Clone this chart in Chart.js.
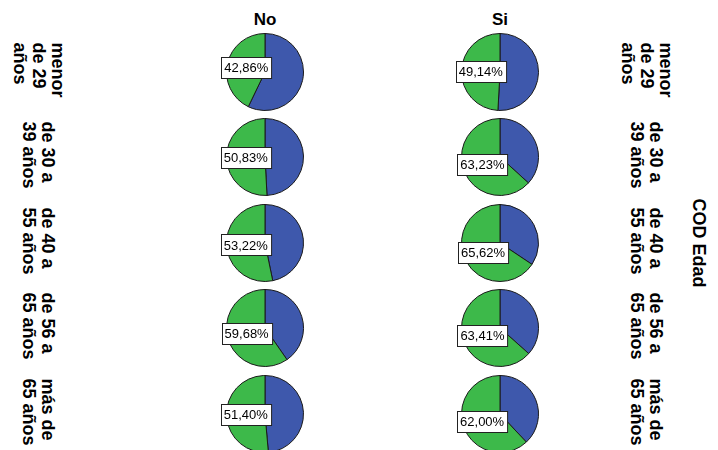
<!DOCTYPE html>
<html>
<head>
<meta charset="utf-8">
<script src="https://cdn.jsdelivr.net/npm/chart.js@4/dist/chart.umd.min.js"></script>
<style>
  html, body { margin: 0; padding: 0; background: #fff; overflow: hidden; }
  #wrap { position: relative; width: 718px; height: 450px; overflow: hidden; font-family: 'Liberation Sans', Arial, sans-serif; }
  .pie { position: absolute; }
  .colHead { position: absolute; font-weight: bold; font-size: 17px; transform: translate(-50%, -50%); }
  .rowLab { position: absolute; writing-mode: vertical-rl; font-weight: bold; font-size: 18px; line-height: 19px; transform: translate(-50%, -50%); white-space: nowrap; }
</style>
</head>
<body>
<div id="wrap"></div>
<script>
// data -------------------------------------------------
const ageGroups = [
    ['menor', 'de 29', 'años'],
    ['de 30 a', '39 años'],
    ['de 40 a', '55 años'],
    ['de 56 a', '65 años'],
    ['más de', '65 años']
];
const columns = ['No', 'Si'];
// % shown in the label (green slice), per age group
const greenNo = [42.86, 50.83, 53.22, 59.68, 51.40];
const greenSi = [49.14, 63.23, 65.62, 63.41, 62.00];
const axisTitle = 'COD Edad';

// layout -----------------------------------------------
const colX = [265, 500];
const rowY = [72, 157, 243, 328, 414];
const blue = '#3e58ac';
const green = '#3db94a';

const wrap = document.getElementById('wrap');

// boxed percentage label on the green slice
const boxLabel = {
    id: 'boxLabel',
    afterDatasetsDraw(chart) {
        const arc = chart.getDatasetMeta(0).data[1];
        const p = arc.getCenterPoint();
        const v = chart.data.datasets[0].data[1];
        const txt = v.toFixed(2).replace('.', ',') + '%';
        const ctx = chart.ctx;
        ctx.save();
        ctx.font = "13px 'Liberation Sans', Arial, sans-serif";
        const w = ctx.measureText(txt).width + 6;
        const h = 21;
        ctx.fillStyle = '#fff';
        ctx.strokeStyle = '#222';
        ctx.lineWidth = 1;
        const x0 = Math.round(p.x - w / 2) + 0.5;
        const y0 = Math.round(p.y - h / 2) + 0.5;
        ctx.fillRect(x0, y0, w, h);
        ctx.strokeRect(x0, y0, w, h);
        ctx.fillStyle = '#000';
        ctx.textAlign = 'center';
        ctx.textBaseline = 'middle';
        ctx.fillText(txt, p.x, p.y + 1);
        ctx.restore();
    }
};

const series = [greenNo, greenSi];

columns.forEach((name, c) => {
    const head = document.createElement('div');
    head.className = 'colHead';
    head.textContent = name;
    head.style.left = colX[c] + 'px';
    head.style.top = '20px';
    wrap.appendChild(head);

    series[c].forEach((g, r) => {
        const cv = document.createElement('canvas');
        cv.className = 'pie';
        cv.width = 130;
        cv.height = 84;
        cv.style.left = (colX[c] - 65) + 'px';
        cv.style.top = (rowY[r] - 42) + 'px';
        wrap.appendChild(cv);

        new Chart(cv, {
            type: 'pie',
            data: {
                labels: ['azul', 'verde'],
                datasets: [{
                    data: [+(100 - g).toFixed(2), g],
                    backgroundColor: [blue, green],
                    borderColor: '#1a1a1a',
                    borderWidth: 1
                }]
            },
            options: {
                responsive: false,
                animation: false,
                layout: { padding: 3 },
                plugins: { legend: { display: false }, tooltip: { enabled: false } }
            },
            plugins: [boxLabel]
        });
    });
});

// row labels, both sides
ageGroups.forEach((lines, r) => {
    [38, 646].forEach(x => {
        const lab = document.createElement('div');
        lab.className = 'rowLab';
        lab.innerHTML = lines.join('<br>');
        lab.style.left = x + 'px';
        lab.style.top = (rowY[r] - 2) + 'px';
        wrap.appendChild(lab);
    });
});

const title = document.createElement('div');
title.className = 'rowLab';
title.textContent = axisTitle;
title.style.left = '698px';
title.style.top = '243px';
wrap.appendChild(title);
</script>
</body>
</html>
